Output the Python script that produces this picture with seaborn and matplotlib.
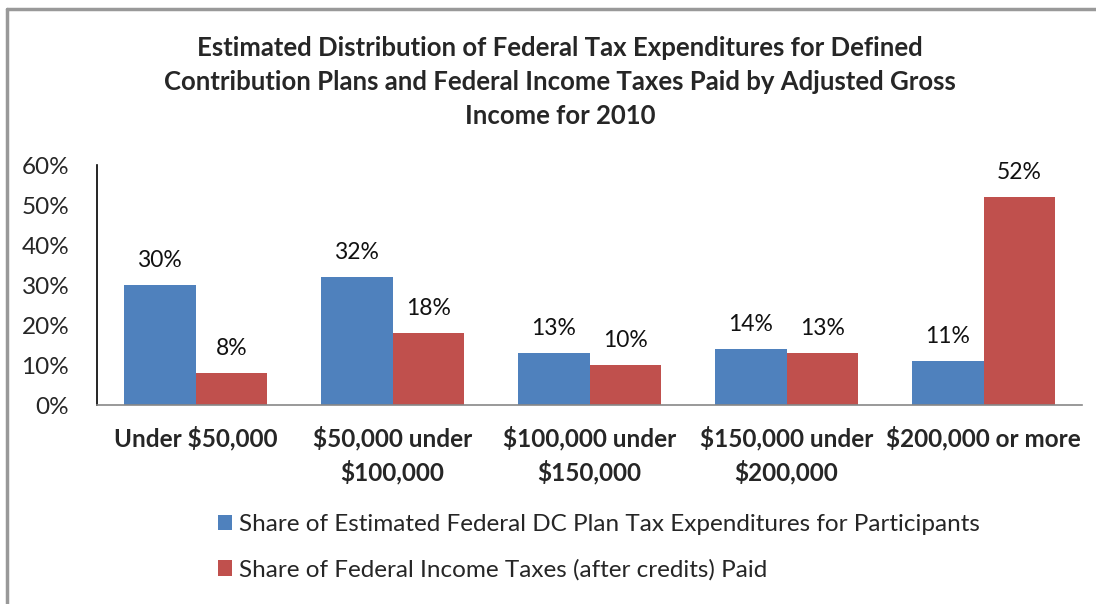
import matplotlib
matplotlib.use("Agg")
import matplotlib.pyplot as plt
import seaborn as sns
import pandas as pd
from matplotlib.lines import Line2D
from matplotlib.patches import Patch

categories = ["Under $50,000", "$50,000 under\n$100,000", "$100,000 under\n$150,000",
              "$150,000 under\n$200,000", "$200,000 or more"]
series_names = ["Share of Estimated Federal DC Plan Tax Expenditures for Participants",
                "Share of Federal Income Taxes (after credits) Paid"]
dc_share = [30, 32, 13, 14, 11]
tax_share = [8, 18, 10, 13, 52]
y_ticks = [0, 10, 20, 30, 40, 50, 60]
colors = ["#4F81BD", "#C0504D"]
title = ("Estimated Distribution of Federal Tax Expenditures for Defined\n"
         "Contribution Plans and Federal Income Taxes Paid by Adjusted Gross\n"
         "Income for 2010")

df = pd.DataFrame({
    "category": categories * 2,
    "series": [series_names[0]] * 5 + [series_names[1]] * 5,
    "value": dc_share + tax_share,
})

sns.set_theme(style="white")
plt.rcParams["font.family"] = ["Lato", "DejaVu Sans"]

fig = plt.figure(figsize=(10.96, 6.04), dpi=100)
ax = fig.add_axes([97/1096, 1 - 405/604, (1082-97)/1096, (405-165)/604])

sns.barplot(data=df, x="category", y="value", hue="series", order=categories,
            hue_order=series_names, palette=colors, width=0.73, saturation=1,
            ax=ax, legend=False, linewidth=0)

for cont in ax.containers:
    ax.bar_label(cont, labels=[f"{int(v)}%" for v in cont.datavalues],
                 padding=10, fontsize=16.5, color="#111111")

ax.set_ylim(0, 60)
ax.set_yticks(y_ticks)
ax.set_yticklabels([f"{t}%" for t in y_ticks], fontsize=17.5)
ax.set_xlabel("")
ax.set_ylabel("")
ax.tick_params(axis="x", labelsize=17.5, length=0, pad=15)
ax.tick_params(axis="y", length=0, pad=20)
for lbl in ax.get_xticklabels():
    lbl.set_fontweight("bold")
    lbl.set_linespacing(1.45)
for s in ["top", "right"]:
    ax.spines[s].set_visible(False)
ax.spines["left"].set_color("black")
ax.spines["left"].set_linewidth(1.2)
ax.spines["bottom"].set_color("#888888")
ax.spines["bottom"].set_linewidth(1.2)

fig.text(560/1096, 1 - 82/604, title, ha="center", va="center",
         fontsize=18.5, fontweight="bold", linespacing=1.5)

handles = [Patch(facecolor=c, edgecolor="none") for c in colors]
fig.legend(handles, series_names, loc="upper left",
           bbox_to_anchor=(196/1096, 1 - 492/604), frameon=False,
           fontsize=17.5, handlelength=0.6, handleheight=0.6,
           handletextpad=0.25, labelspacing=1.0)

fig.add_artist(Line2D([7/1096, 7/1096], [0, 1 - 9/604], color="#999999", lw=2.5))
fig.add_artist(Line2D([7/1096, 1], [1 - 9/604, 1 - 9/604], color="#999999", lw=2.5))

fig.savefig("out.png", dpi=100)
